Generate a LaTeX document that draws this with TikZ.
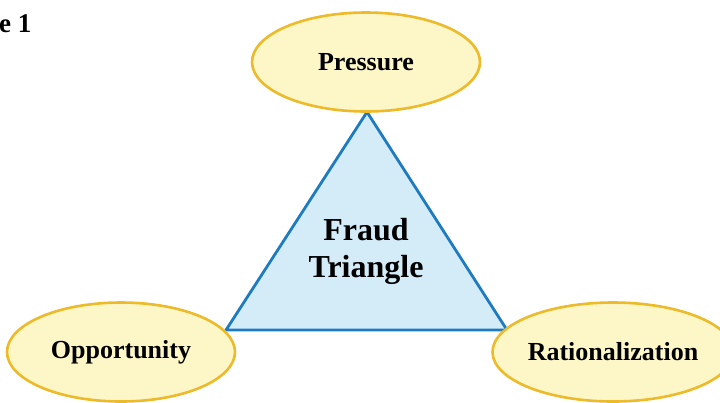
\documentclass[tikz,border=0pt]{standalone}
\usepackage{fontspec}
\setmainfont{Liberation Serif}
\usetikzlibrary{shapes.geometric}

\definecolor{ovalfill}{HTML}{FDF6C6}
\definecolor{ovalline}{HTML}{EDBA2A}
\definecolor{trifill}{HTML}{D3ECF7}
\definecolor{triline}{HTML}{1F7BC0}

\tikzset{
  oval/.style={ellipse, draw=ovalline, fill=ovalfill, line width=2.6bp,
    minimum width=228bp, minimum height=99bp, inner sep=0pt,
    font=\fontsize{26bp}{30bp}\selectfont\bfseries},
  tri/.style={draw=triline, fill=trifill, line width=2.8bp, line join=miter}
}

\begin{document}
\begin{tikzpicture}[x=1bp, y=-1bp]
    \clip (0,0) rectangle (720,402);
    \useasboundingbox (0,0) rectangle (720,402);

    % Triangle corners
    \coordinate (top) at (367,112);
    \coordinate (left) at (226,330);
    \coordinate (right) at (507,330);

    % Triangle
    \draw[tri] (top) -- (left) -- (right) -- cycle;
    \node[align=center, font=\fontsize{32bp}{37bp}\selectfont\bfseries] (fraud) at (366,251) {Fraud\\Triangle};

    % Ovals
    \node[oval] (pressure) at (366,62) {Pressure};
    \node[oval] (opportunity) at (121,352) {Opportunity};
    \node[oval, minimum width=230bp] (rational) at (613,352) {Rationalization};

    % Caption fragment
    \node[anchor=base west, inner sep=0pt, font=\fontsize{27bp}{30bp}\selectfont\bfseries] (caption) at (-1,32) {e 1};

\end{tikzpicture}
\end{document}
